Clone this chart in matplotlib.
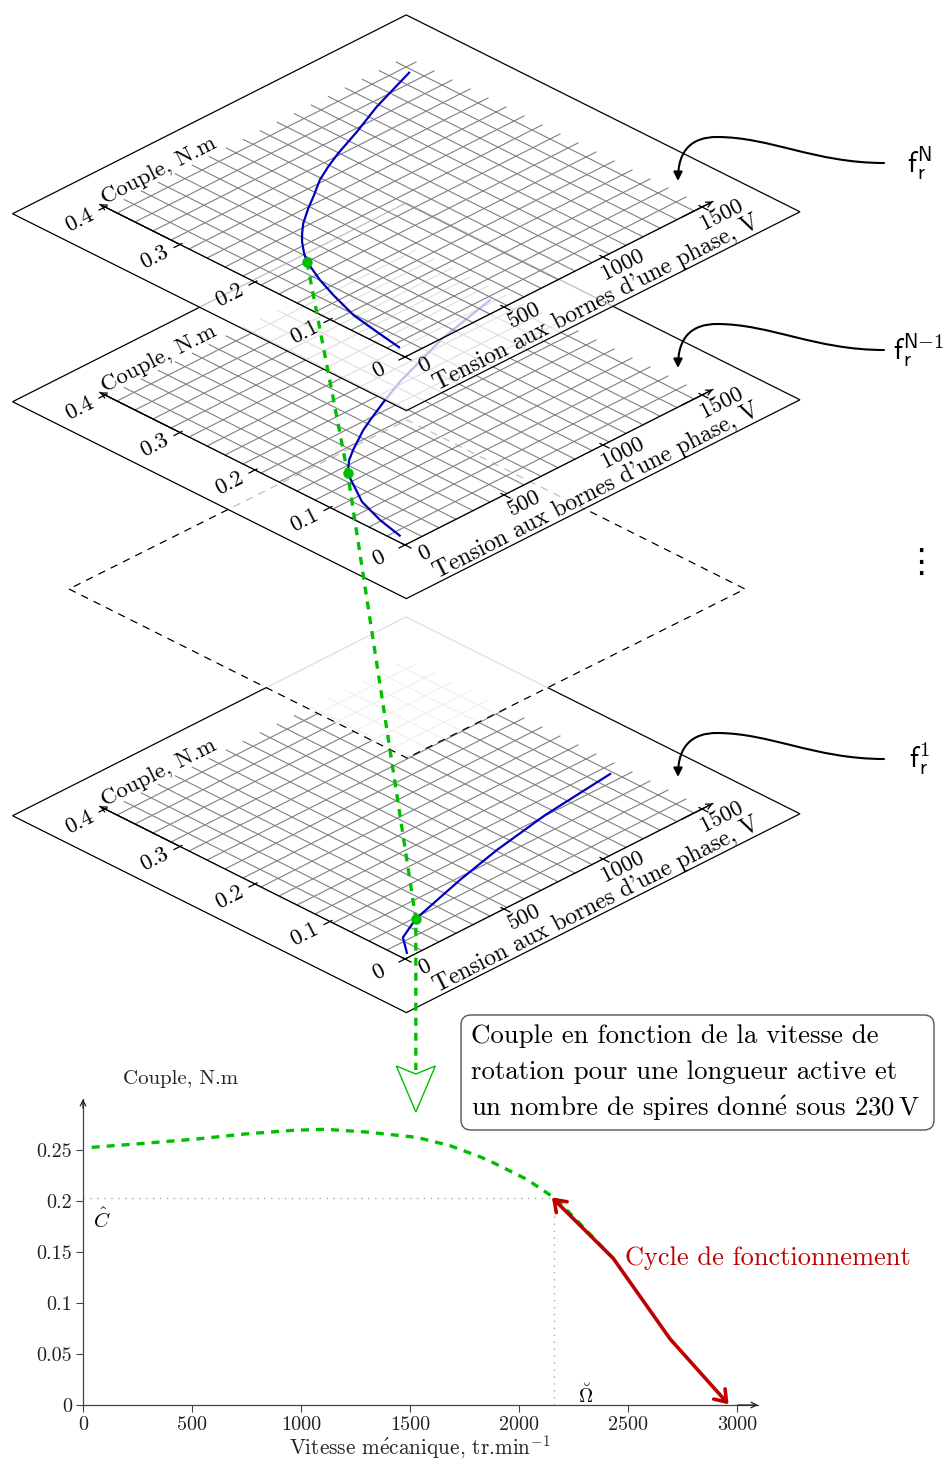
# -*- coding: utf-8 -*-

import numpy as np
import matplotlib
matplotlib.use("Agg")
import matplotlib.pyplot as plt
from matplotlib.patches import FancyArrowPatch, FancyBboxPatch, Polygon
from matplotlib.path import Path

plt.rcParams["font.family"] = ["cmr10", "DejaVu Serif"]
plt.rcParams["mathtext.fontset"] = "cm"
plt.rcParams["axes.unicode_minus"] = False

# =========================
# Data of the stacked maps (tension V, couple N.m)
volt_top = [34, 56, 81, 131, 173, 232, 267, 321, 363, 416, 504, 575, 676, 764, 856, 1011, 1187, 1316, 1439]
torque_top = [0.017, 0.0525, 0.090, 0.130, 0.159, 0.192, 0.205, 0.222, 0.233, 0.2455, 0.262,
              0.274, 0.292, 0.304, 0.315, 0.331, 0.351, 0.363, 0.3744]

volt_mid = [34, 63, 109, 216, 286, 348, 473, 540, 664, 808, 1132, 1444]
torque_mid = [0.016, 0.050, 0.086, 0.1335, 0.150, 0.161, 0.1805, 0.189, 0.204, 0.220, 0.249, 0.268]

volt_low = [36, 103, 229, 535, 778, 1075, 1445]
torque_low = [0.007, 0.030, 0.046, 0.068, 0.083, 0.097, 0.108]

volt_point = [232, 216, 229]
torque_point = [0.192, 0.1335, 0.046]

volt_ticks = [0, 500, 1000, 1500]
volt_labels = ["0", "500", "1000", "1500"]
torque_ticks = [0, 0.1, 0.2, 0.3, 0.4]
torque_labels = ["0", "0.1", "0.2", "0.3", "0.4"]

# Data of the lower chart
speed_curve = [40, 261, 521, 743, 964, 1110, 1301, 1530, 1683, 1820, 1881, 2034, 2171, 2431]
couple_curve = [0.2526, 0.2562, 0.2608, 0.2657, 0.2693, 0.2703, 0.2676, 0.2624,
                0.2542, 0.2434, 0.2376, 0.2213, 0.2017, 0.1438]
speed_cycle = [2150, 2431, 2692, 2960]
couple_cycle = [0.2035, 0.1438, 0.0647, 0.0007]
speed_ticks = [0, 500, 1000, 1500, 2000, 2500, 3000]
speed_labels = ["0", "500", "1000", "1500", "2000", "2500", "3000"]
couple_ticks = [0, 0.05, 0.1, 0.15, 0.2, 0.25]
couple_labels = ["0", "0.05", "0.1", "0.15", "0.2", "0.25"]
couple_rated = 0.2025
speed_rated = 2160

BLUE = "#0000bf"
GREEN = "#00bf00"
RED = "#bf0000"

fig = plt.figure(figsize=(9.5, 14.59), dpi=100)

# =========================
# Lower chart
W, H = 950.0, 1459.0
ax = fig.add_axes([83 / W, 1 - 1405 / H, (758 - 83) / W, (1405 - 1099) / H], zorder=0)
ax.patch.set_alpha(0)
ax.set_xlim(0, 675 / 0.2181)
ax.set_ylim(0, 0.30)
for side in ["top", "right"]:
    ax.spines[side].set_visible(False)
for side in ["left", "bottom"]:
    ax.spines[side].set_color("#444444")
    ax.spines[side].set_linewidth(0.9)
ax.set_xticks(speed_ticks)
ax.set_xticklabels(speed_labels, fontsize=14.5, color="#222222")
ax.set_yticks(couple_ticks)
ax.set_yticklabels(couple_labels, fontsize=14.5, color="#222222")
ax.tick_params(axis="both", direction="out", length=5, width=0.8, color="#444444", pad=3)

ax.plot([0, speed_rated], [couple_rated, couple_rated], color="#aaaaaa", lw=1, ls=(0, (1, 4)))
ax.plot([speed_rated, speed_rated], [0, couple_rated], color="#aaaaaa", lw=1, ls=(0, (1, 4)))
ax.plot(speed_curve, couple_curve, color=GREEN, lw=2.4, dashes=(2.4, 2.1))

cycle = FancyArrowPatch(path=Path(np.column_stack([speed_cycle, couple_cycle])),
                        arrowstyle="<->,head_length=0.7,head_width=0.5", mutation_scale=11,
                        color=RED, lw=2.6, transform=ax.transData, clip_on=False, zorder=5)
ax.add_patch(cycle)

for xy, xytext in [((1, 0), (0.97, 0)), ((0, 1), (0, 0.97))]:
    ax.annotate("", xy=xy, xytext=xytext, xycoords="axes fraction", textcoords="axes fraction",
                arrowprops=dict(arrowstyle="->", color="#222222", lw=0.9, shrinkA=0, shrinkB=0))

# =========================
# Overlay in image pixels for the stacked maps
ov = fig.add_axes([0, 0, 1, 1], zorder=1)
ov.set_xlim(0, W)
ov.set_ylim(H, 0)
ov.axis("off")

ORIGIN_X, ORIGIN_Y = 405, 357
V_LIM = (-266, 1722)
T_LIM = (-0.072, 0.453)
GRID_V = np.linspace(0, 1460, 18)
GRID_T = np.linspace(0, 0.384, 17)
ROT = 27
MAP_FONT = 16.5


def project(v, t, shift=0):
    v = np.asarray(v, dtype=float)
    t = np.asarray(t, dtype=float)
    x = ORIGIN_X + 99 * v / 500 - 75 * t / 0.1
    y = ORIGIN_Y - 50 * v / 500 - 37.5 * t / 0.1 + shift
    return x, y


def draw_plane(shift, volts, torques, z):
    corners = [(V_LIM[0], T_LIM[0]), (V_LIM[1], T_LIM[0]), (V_LIM[1], T_LIM[1]), (V_LIM[0], T_LIM[1])]
    pts = [project(v, t, shift) for v, t in corners]
    ov.add_patch(Polygon(pts, closed=True, facecolor=(1, 1, 1, 0.75), edgecolor="black", lw=0.9, zorder=z))

    # grille
    for v in GRID_V:
        x, y = project([v, v], [0, 0.397], shift)
        ov.plot(x, y, color="#808080", lw=0.8, zorder=z)
    for t in GRID_T:
        x, y = project([0, 1510], [t, t], shift)
        ov.plot(x, y, color="#808080", lw=0.8, zorder=z)

    # axes
    x, y = project(volts, torques, shift)
    ov.plot(x, y, color=BLUE, lw=1.6, zorder=z)
    for a, b in [((1555, 0), (1400, 0)), ((0, 0.407), (0, 0.3))]:
        ov.annotate("", xy=project(*a, shift), xytext=project(*b, shift),
                    arrowprops=dict(arrowstyle="->", color="black", lw=0.9, shrinkA=0, shrinkB=0),
                    zorder=z, annotation_clip=False)
    x, y = project([0, 1555], [0, 0], shift)
    ov.plot(x, y, color="black", lw=0.9, zorder=z)
    x, y = project([0, 0], [0, 0.407], shift)
    ov.plot(x, y, color="black", lw=0.9, zorder=z)

    # graduations
    for v, lab in zip(volt_ticks, volt_labels):
        x, y = project([v, v], [0.004, -0.008], shift)
        ov.plot(x, y, color="black", lw=0.9, zorder=z)
        x0, y0 = project(v, 0, shift)
        ov.text(x0 + 20, y0 + 8, lab, fontsize=MAP_FONT, rotation=ROT, ha="center", va="center",
                rotation_mode="anchor", zorder=z)
    for t, lab in zip(torque_ticks, torque_labels):
        x, y = project([10, -30], [t, t], shift)
        ov.plot(x, y, color="black", lw=0.9, zorder=z)
        x0, y0 = project(0, t, shift)
        ov.text(x0 - 26, y0 + 13, lab, fontsize=MAP_FONT, rotation=ROT, ha="center", va="center",
                rotation_mode="anchor", zorder=z)

    ov.text(159, 170 + shift, "Couple, N.m", fontsize=MAP_FONT, rotation=ROT, ha="center", va="center",
            rotation_mode="anchor", zorder=z)
    ov.text(596, 303 + shift, "Tension aux bornes d'une phase, V", fontsize=17, rotation=ROT,
            ha="center", va="center", rotation_mode="anchor", zorder=z)


# plan du bas
draw_plane(602, volt_low, torque_low, 2)

# plan intermediaire en tirets
cx, cy = 407, 589
ov.add_patch(Polygon([(cx - 338, cy), (cx, cy + 169), (cx + 338, cy), (cx, cy - 169)], closed=True,
                     facecolor=(1, 1, 1, 0.88), edgecolor="black", lw=0.9, ls=(0, (6, 5)), zorder=3))

draw_plane(188, volt_mid, torque_mid, 4)
draw_plane(0, volt_top, torque_top, 5)

# =========================
# Green link through the operating points
shifts = [0, 188, 602]
px, py = [], []
for v, t, s in zip(volt_point, torque_point, shifts):
    x, y = project(v, t, s)
    px.append(float(x))
    py.append(float(y))
ov.plot(px, py, "o", color=GREEN, ms=6.5, zorder=8)
link_x = px + [px[-1]]
link_y = py + [1070]
ov.plot(link_x, link_y, color=GREEN, lw=2.4, dashes=(2.4, 2.1), zorder=7)
tip = px[-1]
ov.add_patch(Polygon([(tip - 19.5, 1066), (tip, 1074), (tip + 19.5, 1066), (tip, 1112)], closed=True,
                     facecolor="white", edgecolor=GREEN, lw=1, zorder=7))

# =========================
# Labels of the maps with their curved arrows
map_names = [r"$\mathsf{f}_{\mathsf{r}}^{\mathsf{N}}$",
             r"$\mathsf{f}_{\mathsf{r}}^{\mathsf{N{-}1}}$",
             r"$\mathsf{f}_{\mathsf{r}}^{\mathsf{1}}$"]
map_shift = [0, 187, 596]
map_left = [907, 893, 909]
for name, s, lx in zip(map_names, map_shift, map_left):
    verts = [(884, 163 + s), (815, 163 + s), (770, 137 + s), (717, 137 + s),
             (692, 137 + s), (678, 150 + s), (678, 181 + s)]
    codes = [Path.MOVETO] + [Path.CURVE4] * 6
    ov.add_patch(FancyArrowPatch(path=Path(verts, codes), arrowstyle="-|>", mutation_scale=13,
                                 color="black", lw=1.5, zorder=9, shrinkA=0, shrinkB=0))
    ov.text(lx, 163 + s, name, fontsize=21, ha="left", va="center", zorder=9)
ov.text(921, 562, "\u22ee", fontsize=24, family=["DejaVu Sans"], ha="center", va="center", zorder=9)

# =========================
# Box and annotations
ov.add_patch(FancyBboxPatch((469, 1023), 457, 99, boxstyle="round,pad=8,rounding_size=10",
                            facecolor="white", edgecolor="#555555", lw=1, zorder=9))
box_lines = ["Couple en fonction de la vitesse de",
             "rotation pour une longueur active et",
             r"un nombre de spires donn$\acute{\mathrm{e}}$ sous 230$\,$V"]
for k, line in enumerate(box_lines):
    ov.text(471, 1036 + 36 * k, line, fontsize=19.3, ha="left", va="center", zorder=10)
ov.text(625, 1258, "Cycle de fonctionnement", fontsize=19, color=RED, ha="left", va="center", zorder=10)
ov.text(181, 1079, "Couple, N.m", fontsize=15, ha="center", va="center", color="#222222", zorder=10)
ov.text(420, 1447, r"Vitesse m$\acute{\mathrm{e}}$canique, tr.min$^{-1}$", fontsize=15.3, ha="center",
        va="center", color="#222222", zorder=10)
ov.text(102, 1220, r"$\hat{C}$", fontsize=15, ha="center", va="center", zorder=10)
ov.text(586, 1395, r"$\breve{\Omega}$", fontsize=14, ha="center", va="center", zorder=10)

fig.savefig("out.png", dpi=100)
plt.close(fig)
